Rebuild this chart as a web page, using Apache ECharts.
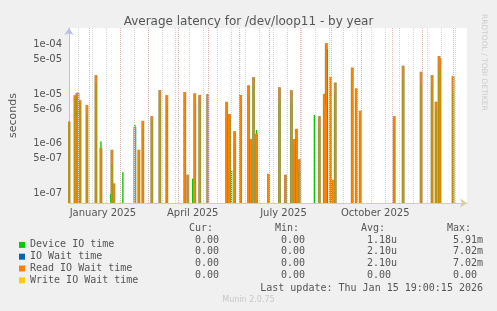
<!DOCTYPE html>
<html><head><meta charset="utf-8">
<script src="https://cdn.jsdelivr.net/npm/echarts@6/dist/echarts.min.js"></script>
<style>html,body{margin:0;padding:0;background:#f0f0f0}#c{width:497px;height:311px}</style>
</head><body><div id="c"></div><script>
// ---- data ----
const dates = ['2024-12-12','2024-12-18','2024-12-19','2024-12-20','2024-12-21','2024-12-22','2024-12-23','2024-12-30',
 '2025-01-08','2025-01-13','2025-01-23','2025-01-24','2025-01-26','2025-02-04','2025-02-16','2025-02-20','2025-02-24',
 '2025-03-05','2025-03-13','2025-03-20','2025-04-07','2025-04-10','2025-04-15','2025-04-17','2025-04-22','2025-04-30',
 '2025-05-19','2025-05-21','2025-05-22','2025-05-24','2025-05-27','2025-06-02','2025-06-10','2025-06-12','2025-06-15',
 '2025-06-18','2025-06-30','2025-07-11','2025-07-17','2025-07-23','2025-07-26','2025-07-28','2025-07-31','2025-08-15',
 '2025-08-20','2025-08-25','2025-08-26','2025-08-27','2025-08-28','2025-08-31','2025-09-02','2025-09-05','2025-09-22',
 '2025-09-26','2025-09-30','2025-11-03','2025-11-12','2025-11-30','2025-12-11','2025-12-15','2025-12-18','2025-12-19',
 '2026-01-01'];
const deviceIOTime = [2.6e-6,8e-6,8e-6,9e-6,8e-6,7e-6,6e-6,4e-6,
 1.5e-5,1.12e-6,1e-7,4e-7,null,2.7e-7,2.4e-6,5e-7,2e-6,
 3e-6,8e-6,6e-6,8e-6,null,2e-7,6e-6,6e-6,7e-6,
 5e-6,3.5e-6,3e-6,3e-7,1e-6,6e-6,1e-5,1e-6,1.5e-5,
 1.9e-6,null,8e-6,null,7e-6,1e-6,1.2e-6,3e-7,3.8e-6,
 2e-6,5e-6,1.05e-5,1e-4,8e-5,1.2e-5,null,1e-5,2e-5,
 8e-6,3e-6,2e-6,2e-5,1.5e-5,1.5e-5,5e-6,3e-5,3e-5,
 1.2e-5];
const ioWaitTime = [2.8e-6,9.5e-6,3.5e-6,1.05e-5,1.07e-5,3.5e-6,7.5e-6,6e-6,
 2.4e-5,8.3e-7,null,7.6e-7,1.6e-7,null,2.2e-6,7.6e-7,2.9e-6,
 3.6e-6,1.2e-5,9.5e-6,1.1e-5,2.4e-7,null,1.03e-5,9.6e-6,1e-5,
 7e-6,3.8e-6,4e-6,null,1.8e-6,9.6e-6,1.5e-5,1.25e-6,2.2e-5,
 1.6e-6,2.5e-7,1.37e-5,2.4e-7,1.2e-5,1.25e-6,2e-6,4.9e-7,null,
 3.6e-6,1e-5,6e-6,1.05e-4,null,2.2e-5,1.9e-7,1.7e-5,3.4e-5,
 1.3e-5,4.6e-6,3.6e-6,3.7e-5,2.8e-5,2.4e-5,7e-6,5.8e-5,5.2e-5,
 2.3e-5];
const readIOWaitTime = [2.8e-6,9.5e-6,3.5e-6,1.05e-5,1.07e-5,3.5e-6,7.5e-6,6e-6,
 2.4e-5,8.3e-7,null,7.6e-7,1.6e-7,null,2.2e-6,7.6e-7,2.9e-6,
 3.6e-6,1.2e-5,9.5e-6,1.1e-5,2.4e-7,null,1.03e-5,9.6e-6,1e-5,
 7e-6,3.8e-6,4e-6,null,1.8e-6,9.6e-6,1.5e-5,1.25e-6,2.2e-5,
 1.6e-6,2.5e-7,1.37e-5,2.4e-7,1.2e-5,1.25e-6,2e-6,4.9e-7,null,
 3.6e-6,1e-5,6e-6,1.05e-4,null,2.2e-5,1.9e-7,1.7e-5,3.4e-5,
 1.3e-5,4.6e-6,3.6e-6,3.7e-5,2.8e-5,2.4e-5,7e-6,5.8e-5,5.2e-5,
 2.3e-5];
const writeIOWaitTime = dates.map(() => 0);

const seriesNames = ['Device IO time','IO Wait time','Read IO Wait time','Write IO Wait time'];
const legendColors = ['#00cc00','#0066b3','#ff8000','#ffcc00'];
const statCur = ['0.00','0.00','0.00','0.00'];
const statMin = ['0.00','0.00','0.00','0.00'];
const statAvg = ['1.18u','2.10u','2.10u','0.00'];
const statMax = ['5.91m','7.02m','7.02m','0.00'];
const statHeaders = ['Cur:','Min:','Avg:','Max:'];

const yTickValues = [1e-4,5e-5,1e-5,5e-6,1e-6,5e-7,1e-7];
const yTickLabels = ['1e-04','5e-05','1e-05','5e-06','1e-06','5e-07','1e-07'];
const xLabelDates = ['2025-01-15','2025-04-15','2025-07-15','2025-10-15'];
const xLabels = ['January 2025','April 2025','July 2025','October 2025'];

const titleText = 'Average latency for /dev/loop11 - by year';
const lastUpdate = 'Last update: Thu Jan 15 19:00:15 2026';
const footer = 'Munin 2.0.75';
const sideText = 'RRDTOOL / TOBI OETIKER';

// ---- helpers ----
const ts = s => Date.parse(s + 'T00:00:00Z');
const X_MIN = ts('2024-12-12'), X_MAX = ts('2026-01-15');
const Y_MIN = 6.5e-8, Y_MAX = 2.12e-4;
const pairs = arr => dates.map((d, i) => [ts(d), arr[i]]).filter(p => p[1] != null);

// grid lines
const hLines = [];
for (let n = -8; n <= -4; n++) for (let k = 1; k <= 9; k++) {
  const v = k * Math.pow(10, n);
  if (v < Y_MIN || v > Y_MAX) continue;
  const major = (k === 1 || k === 5);
  hLines.push({ yAxis: v, lineStyle: { color: major ? '#eab0b0' : '#d6d6d6', width: 1, type: [1, 1] } });
}
const vLines = [];
for (let t = ts('2024-12-21'); t < X_MAX; t += 14 * 86400000) {
  vLines.push({ xAxis: t, lineStyle: { color: '#d6d6d6', width: 1, type: [1, 1] } });
}
for (let y = 2025, m = 0; ; m++) {
  const t = Date.UTC(y, m, 1);
  if (t > X_MAX) break;
  vLines.push({ xAxis: t, lineStyle: { color: '#eab0b0', width: 1, type: [1, 1] } });
}

const F = '"DejaVu Sans", sans-serif';
const MONO = '"DejaVu Sans Mono", monospace';
const chart = echarts.init(document.getElementById('c'), null, { renderer: 'canvas' });

const graphic = [];
const colRight = [219, 305, 391, 477];
const stats = [statCur, statMin, statAvg, statMax];
statHeaders.forEach((h, c) => graphic.push({ type: 'text', x: colRight[c] - 6, y: 228,
  style: { text: h, font: '10px ' + MONO, fill: '#555', align: 'right', verticalAlign: 'middle' } }));
for (let r = 0; r < 4; r++) for (let c = 0; c < 4; c++) {
  const s = stats[c][r];
  const hasUnit = /[a-zA-Z]$/.test(s);
  graphic.push({ type: 'text', x: colRight[c] + (hasUnit ? 6 : 0), y: 240 + r * 11.8,
    style: { text: s, font: '10px ' + MONO, fill: '#555', align: 'right', verticalAlign: 'middle' } });
}
graphic.push({ type: 'text', x: 483, y: 288, style: { text: lastUpdate, font: '10px ' + MONO, fill: '#555', align: 'right', verticalAlign: 'middle' } });
graphic.push({ type: 'text', x: 248.5, y: 300, style: { text: footer, font: '8px ' + F, fill: '#c8c8c8', align: 'center', verticalAlign: 'middle' } });
graphic.push({ type: 'text', x: 484, y: 14, rotation: -Math.PI / 2, style: { text: sideText, font: '7.5px ' + F, fill: '#cccccc', align: 'left', verticalAlign: 'middle' } });

const xCommon = { type: 'value', min: X_MIN, max: X_MAX };
chart.setOption({
  backgroundColor: '#f0f0f0',
  animation: false,
  title: { text: titleText, left: 'center', top: 11, textStyle: { fontFamily: F, fontSize: 12, fontWeight: 'normal', color: '#555' } },
  grid: { left: 67, top: 28, width: 400, height: 175, backgroundColor: '#ffffff', show: true, borderWidth: 0 },
  legend: {
    orient: 'vertical', left: 14, top: 234, itemWidth: 6, itemHeight: 6, itemGap: 0, icon: 'rect', selectedMode: false,
    textStyle: { fontFamily: MONO, fontSize: 10, color: '#555', lineHeight: 11.8 },
    data: seriesNames.map((n, i) => ({ name: n, itemStyle: { color: legendColors[i] } }))
  },
  xAxis: [Object.assign({}, xCommon, {
    axisLine: { show: true, lineStyle: { color: '#d8d0a0', width: 1 }, symbol: ['none', 'arrow'], symbolSize: [7, 7] },
    axisTick: { show: false },
    splitLine: { show: false },
    axisLabel: {
      customValues: xLabelDates.map(ts), fontFamily: F, fontSize: 10, color: '#555', margin: 5,
      formatter: v => { const i = xLabelDates.map(ts).indexOf(v); return i >= 0 ? xLabels[i] : ''; }
    }
  }), Object.assign({}, xCommon, { show: false, splitLine: { show: false } })],
  yAxis: {
    type: 'log', logBase: 10, min: Y_MIN, max: Y_MAX, startValue: Y_MIN,
    name: 'seconds', nameLocation: 'middle', nameGap: 50, nameRotate: 90,
    nameTextStyle: { fontFamily: F, fontSize: 11, color: '#555' },
    axisLine: { show: true, lineStyle: { color: '#b8bcf0' }, symbol: ['none', 'arrow'], symbolSize: [7, 7] },
    axisTick: { show: false },
    splitLine: { show: false }, minorSplitLine: { show: false },
    axisLabel: {
      customValues: yTickValues, fontFamily: F, fontSize: 10, color: '#555', margin: 7,
      formatter: v => { for (let i = 0; i < yTickValues.length; i++) if (Math.abs(v / yTickValues[i] - 1) < 1e-6) return yTickLabels[i]; return ''; }
    }
  },
  series: [
    { name: seriesNames[3], type: 'line', data: pairs(writeIOWaitTime), showSymbol: false, z: 1,
      itemStyle: { color: legendColors[3] }, lineStyle: { width: 1, color: legendColors[3] },
      markLine: { silent: true, symbol: ['none', 'none'], label: { show: false }, animation: false, data: hLines.concat(vLines) } },
    { name: seriesNames[1], type: 'bar', xAxisIndex: 1, data: pairs(ioWaitTime), barWidth: 3, z: 2,
      itemStyle: { color: 'rgba(150,122,55,0.8)' } },
    { name: seriesNames[0], type: 'bar', data: pairs(deviceIOTime), barWidth: 1.4, barGap: '-100%', z: 3,
      itemStyle: { color: legendColors[0] } },
    { name: seriesNames[2], type: 'bar', data: pairs(readIOWaitTime), barWidth: 1.4, barGap: '-100%', z: 4,
      itemStyle: { color: legendColors[2] } }
  ],
  graphic: graphic
});
</script></body></html>
